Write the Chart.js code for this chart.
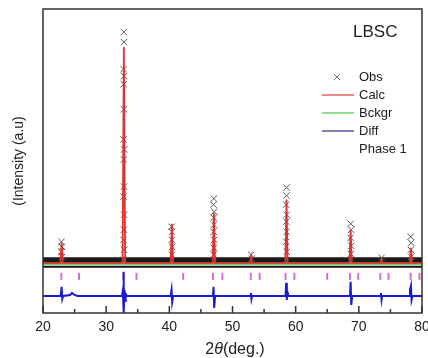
<!DOCTYPE html>
<html lang="en">
<head>
  <meta charset="UTF-8">
  <title>LBSC Rietveld</title>
  <script src="https://cdn.jsdelivr.net/npm/chart.js"></script>
  <style>
    body { margin: 0; background: #fff; }
    canvas { display: block; }
  </style>
</head>
<body>
  <canvas id="chart" width="428" height="358"></canvas>

  <script>
    // x axis
    const xMajor = [20, 30, 40, 50, 60, 70, 80];
    const xMinor = [25, 35, 45, 55, 65, 75];

    // observed points on the peaks (2theta, intensity)
    const obsX = [
      22.92, 22.98, 22.9, 23.0,
      32.8, 32.82, 32.76, 32.84, 32.78, 32.8, 32.74, 32.86, 32.78, 32.82, 32.76, 32.84, 32.8, 32.74, 32.86, 32.8,
      40.35, 40.42, 40.38, 40.45, 40.4,
      47.05, 47.0, 47.1, 47.02, 47.08, 47.0, 47.1, 47.05, 47.0,
      52.95, 53.05,
      58.55, 58.55, 58.5, 58.6, 58.52, 58.58, 58.5, 58.6,
      68.72, 68.78, 68.7, 68.8, 68.75,
      73.6,
      78.2, 78.28, 78.22, 78.3
    ];
    const obsY = [
      250, 200, 150, 100,
      2340, 2240, 1970, 1900, 1820, 1570, 1270, 1170, 1070, 800, 700, 520, 370, 270, 170, 70,
      400, 350, 270, 200, 120,
      680, 620, 550, 490, 420, 350, 270, 190, 120,
      120, 80,
      790, 710, 620, 520, 450, 350, 250, 150,
      430, 370, 290, 210, 130,
      90,
      300, 240, 170, 100
    ];

    // dense observed noise band near the baseline
    const bandX = [20, 80];
    const bandY = [70, 70];

    // calculated profile
    const calcX = [
      20, 22.75, 22.95, 23.15,
      32.6, 32.8, 33.0,
      40.22, 40.4, 40.58,
      46.87, 47.05, 47.23,
      52.8, 52.95, 53.1,
      58.37, 58.55, 58.73,
      68.52, 68.7, 68.88,
      73.45, 73.6, 73.75,
      78.07, 78.25, 78.43, 80
    ];
    const calcY = [
      40, 40, 240, 40,
      40, 2190, 40,
      40, 430, 40,
      40, 540, 40,
      40, 100, 40,
      40, 670, 40,
      40, 370, 40,
      40, 70, 40,
      40, 190, 40, 40
    ];

    // background
    const bkgX = [20, 80];
    const bkgY = [30, 30];

    // lower edge of observed band
    const edgeX = [20, 80];
    const edgeY = [2, 2];

    // difference curve
    const diffX = [
      20, 22.8, 22.95, 23.05, 23.2, 24.3, 24.6, 25.0, 25.5,
      32.5, 32.6, 32.7, 32.75, 32.8, 32.9, 33.0, 33.1, 33.3,
      40.2, 40.35, 40.45, 40.6,
      46.9, 47.0, 47.1, 47.25,
      52.8, 52.9, 53.0, 53.1,
      58.4, 58.5, 58.6, 58.7, 58.9,
      68.6, 68.7, 68.8, 68.95,
      73.4, 73.5, 73.6, 73.7,
      78.0, 78.1, 78.25, 78.35, 78.5, 80
    ];
    const diffY = [
      -290, -290, -200, -320, -290, -280, -260, -280, -290,
      -290, -250, -330, -50, -460, -230, -340, -270, -290,
      -290, -230, -350, -290,
      -290, -200, -410, -290,
      -290, -260, -320, -290,
      -290, -160, -330, -250, -290,
      -290, -150, -380, -290,
      -290, -260, -330, -290,
      -290, -230, -190, -330, -290, -290
    ];

    // Bragg reflection positions, phase 1
    const braggX = [
      22.9, 25.7, 32.7, 34.8, 42.2, 46.9, 48.4, 52.9, 54.3,
      58.4, 59.8, 65.0, 68.6, 69.9, 73.4, 74.7, 78.2, 79.6
    ];
    const braggLevel = -95;

    const legendItems = ['Obs', 'Calc', 'Bckgr', 'Diff', 'Phase 1'];

    const pts = (xs, ys) => xs.map((x, i) => ({ x: x, y: ys[i] }));

    const FONT = '"Liberation Sans", Arial, sans-serif';
    const TEXT = '#222';

    const extras = {
      id: 'extras',
      afterDraw(chart) {
        const ctx = chart.ctx;
        const a = chart.chartArea;
        const xs = chart.scales.x;
        ctx.save();

        // frame
        ctx.strokeStyle = '#333';
        ctx.lineWidth = 1.5;
        ctx.strokeRect(a.left, a.top, a.right - a.left, a.bottom - a.top);

        // inward ticks on bottom axis
        ctx.beginPath();
        xMajor.forEach(v => {
          const px = xs.getPixelForValue(v);
          ctx.moveTo(px, a.bottom);
          ctx.lineTo(px, a.bottom - 7);
        });
        xMinor.forEach(v => {
          const px = xs.getPixelForValue(v);
          ctx.moveTo(px, a.bottom);
          ctx.lineTo(px, a.bottom - 4);
        });
        ctx.stroke();

        // x title with italic theta
        ctx.fillStyle = TEXT;
        ctx.textBaseline = 'middle';
        ctx.textAlign = 'left';
        const parts = [['2', '16px ' + FONT], ['\u03B8', 'italic 16px ' + FONT], ['(deg.)', '16px ' + FONT]];
        let w = 0;
        parts.forEach(p => { ctx.font = p[1]; w += ctx.measureText(p[0]).width; });
        let tx = 235 - w / 2;
        parts.forEach(p => {
          ctx.font = p[1];
          ctx.fillText(p[0], tx, 350);
          tx += ctx.measureText(p[0]).width;
        });

        // sample label
        ctx.font = '17px ' + FONT;
        ctx.fillText('LBSC', 353, 32);

        // legend
        ctx.font = '13px ' + FONT;
        const ly = [77, 95, 113, 131, 149];
        legendItems.forEach((t, i) => ctx.fillText(t, 359, ly[i]));

        ctx.strokeStyle = '#777';
        ctx.lineWidth = 1;
        ctx.beginPath();
        ctx.moveTo(334, 74); ctx.lineTo(340, 80);
        ctx.moveTo(340, 74); ctx.lineTo(334, 80);
        ctx.stroke();

        const lineCols = ['#d43a3a', '#44cc44', '#33338f'];
        lineCols.forEach((c, i) => {
          ctx.strokeStyle = c;
          ctx.lineWidth = 1.2;
          ctx.beginPath();
          ctx.moveTo(322, ly[i + 1]);
          ctx.lineTo(354, ly[i + 1]);
          ctx.stroke();
        });

        ctx.restore();
      }
    };

    new Chart(document.getElementById('chart').getContext('2d'), {
      type: 'scatter',
      data: {
        datasets: [
          {
            label: 'Calc',
            data: pts(calcX, calcY),
            showLine: true,
            borderColor: 'rgb(222, 50, 50)',
            borderWidth: 1.8,
            pointRadius: 0,
            order: 0
          },
          {
            label: 'Obs',
            data: pts(obsX, obsY),
            pointStyle: 'crossRot',
            pointRadius: 4.5,
            borderColor: '#5a5a5a',
            borderWidth: 1,
            order: 1
          },
          {
            label: 'Obs edge',
            data: pts(edgeX, edgeY),
            showLine: true,
            borderColor: '#111',
            borderWidth: 2,
            pointRadius: 0,
            order: 2
          },
          {
            label: 'Bckgr',
            data: pts(bkgX, bkgY),
            showLine: true,
            borderColor: '#3fbf3f',
            borderWidth: 2,
            pointRadius: 0,
            order: 3
          },
          {
            label: 'Obs band',
            data: pts(bandX, bandY),
            showLine: true,
            borderColor: '#1a1a1a',
            borderWidth: 5,
            pointRadius: 0,
            order: 4
          },
          {
            label: 'Diff',
            data: pts(diffX, diffY),
            showLine: true,
            borderColor: '#1a1ad0',
            borderWidth: 2,
            pointRadius: 0,
            order: 5
          },
          {
            label: 'Phase 1',
            data: braggX.map(x => ({ x: x, y: braggLevel })),
            pointStyle: 'line',
            rotation: 90,
            pointRadius: 3.5,
            borderColor: '#d36fd3',
            borderWidth: 2,
            order: 6
          }
        ]
      },
      options: {
        responsive: false,
        animation: false,
        devicePixelRatio: 1,
        layout: { padding: { top: 9, right: 6, left: 0, bottom: 0 } },
        plugins: {
          legend: { display: false },
          tooltip: { enabled: false }
        },
        scales: {
          x: {
            type: 'linear',
            min: 20,
            max: 80,
            grid: { display: false, drawTicks: false },
            border: { display: false },
            ticks: {
              stepSize: 10,
              padding: 6,
              color: TEXT,
              font: { family: FONT, size: 14 }
            },
            afterFit: s => { s.height = 45; s.paddingLeft = 0; s.paddingRight = 0; }
          },
          y: {
            min: -460,
            max: 2570,
            grid: { display: false, drawTicks: false },
            border: { display: false },
            ticks: { display: false },
            title: {
              display: true,
              text: '(Intensity (a.u)',
              color: TEXT,
              padding: { top: 11, bottom: 0 },
              font: { family: FONT, size: 14 }
            },
            afterFit: s => { s.width = 43; }
          }
        }
      },
      plugins: [extras]
    });
  </script>
</body>
</html>
